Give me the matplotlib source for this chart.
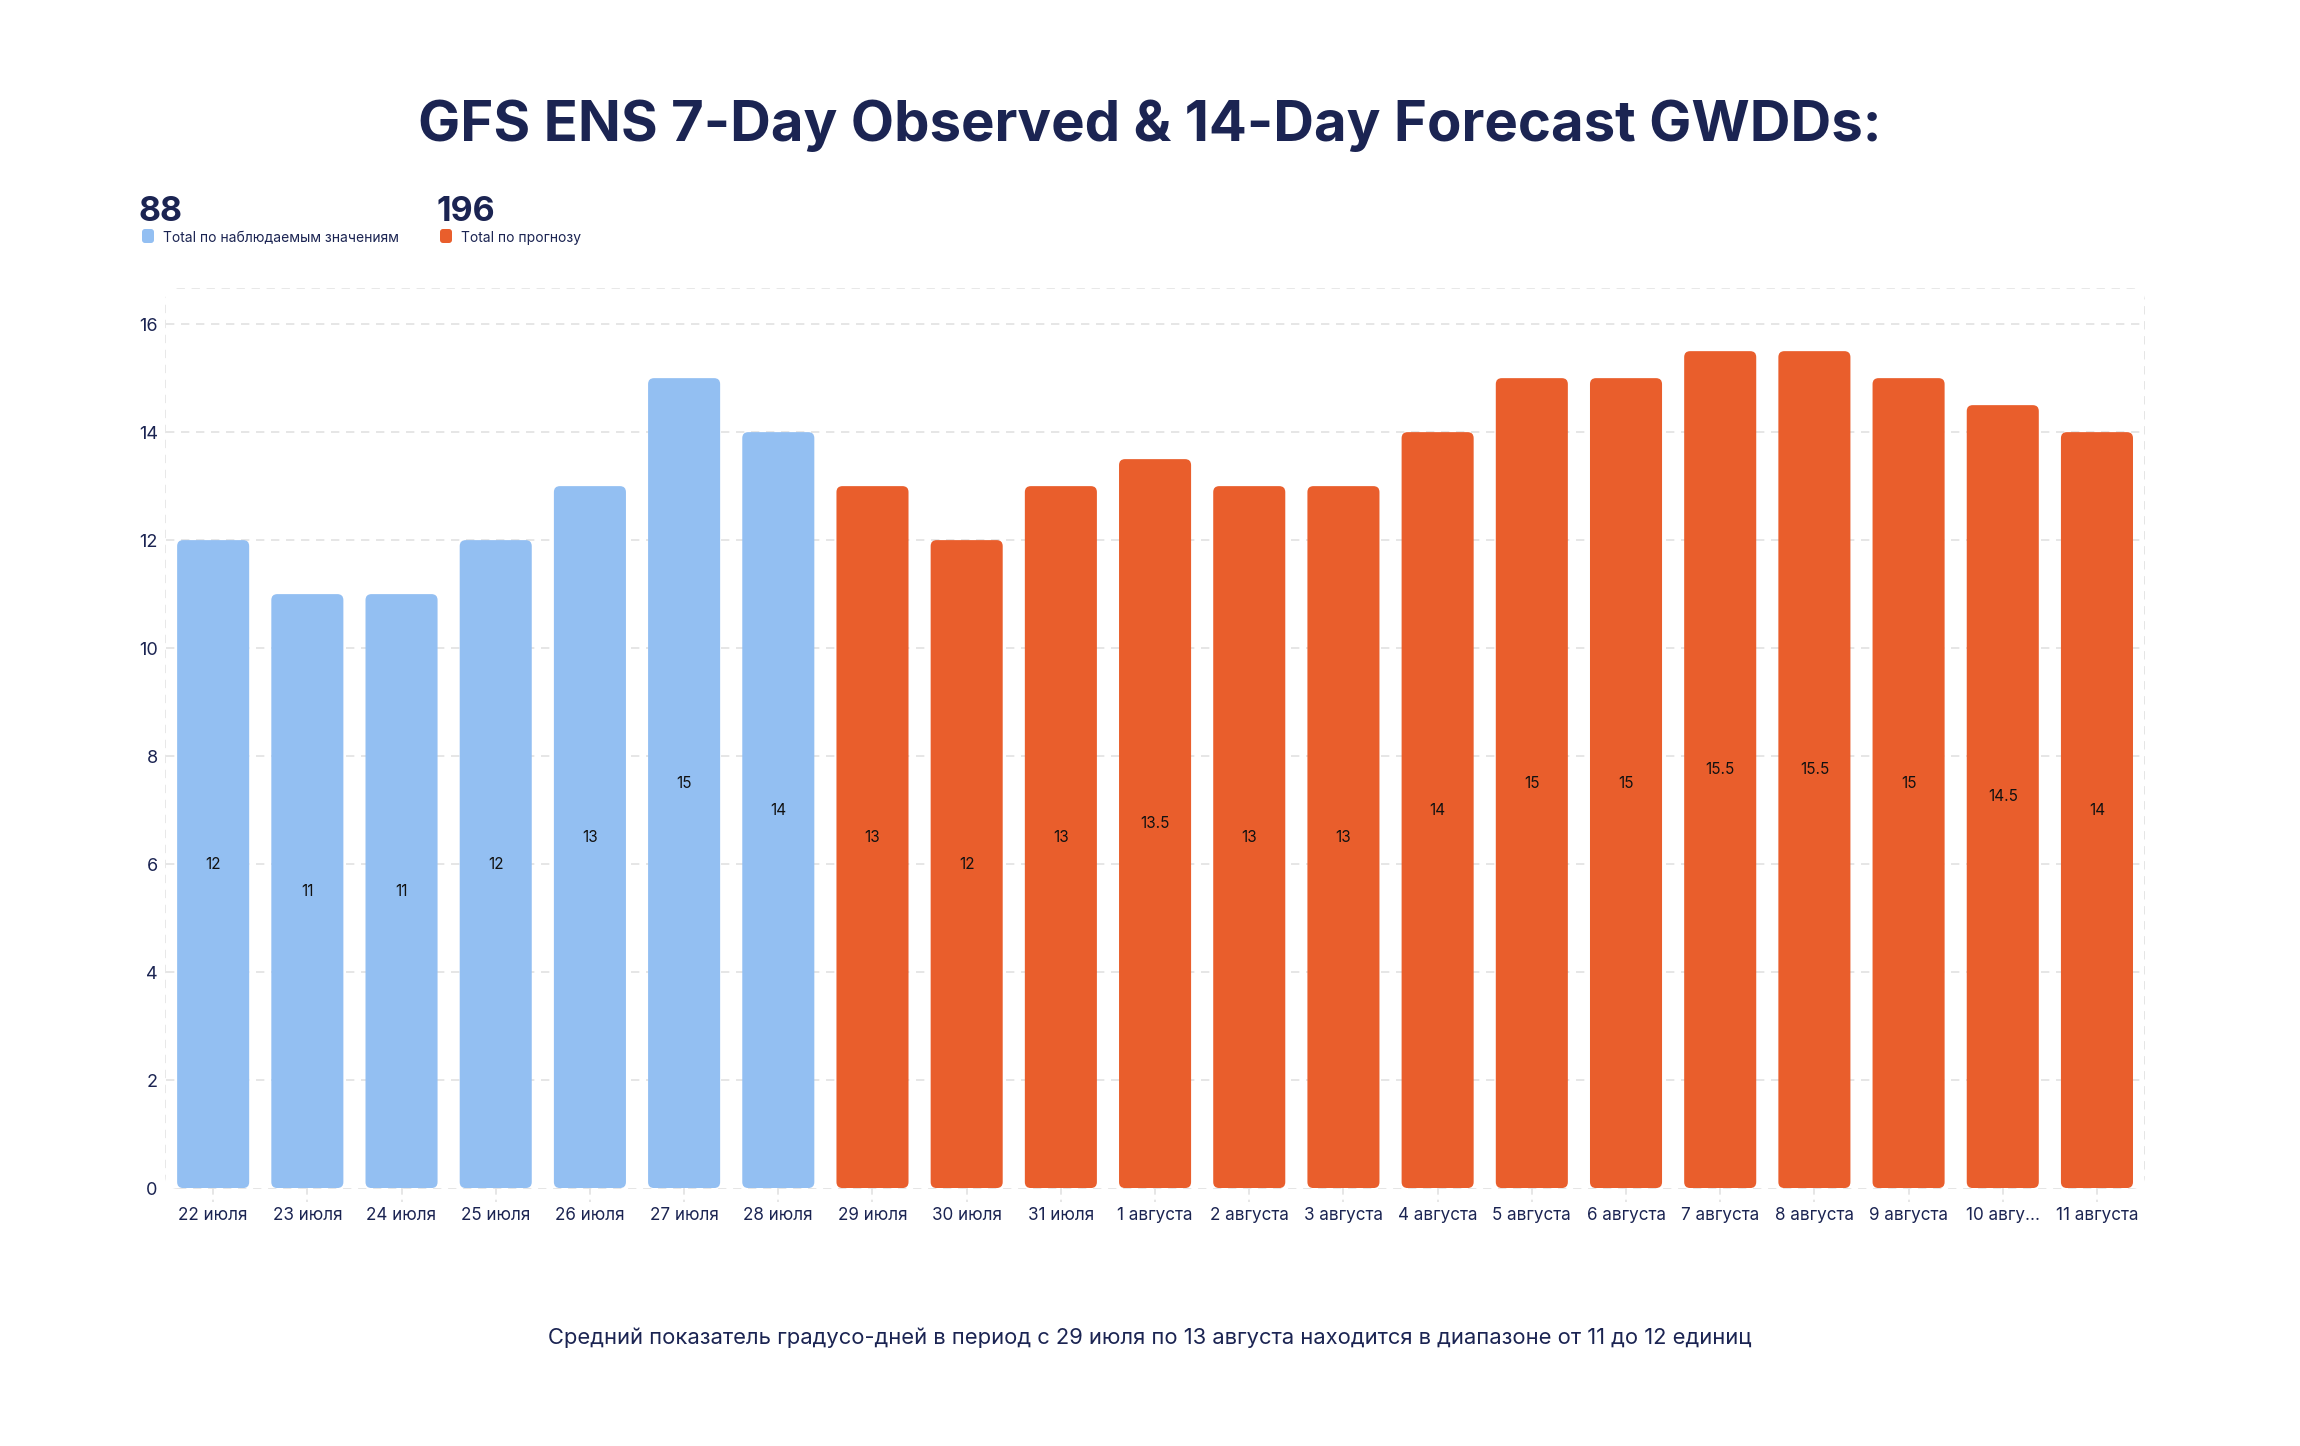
"""
GFS ENS observed vs forecast gas-weighted degree days, bar chart
"""

import matplotlib.pyplot as plt
from matplotlib.patches import FancyBboxPatch
from matplotlib.transforms import blended_transform_factory

plt.rcParams["font.family"] = ["Inter", "DejaVu Sans"]

dates = [
    "22 июля", "23 июля", "24 июля", "25 июля", "26 июля", "27 июля", "28 июля",
    "29 июля", "30 июля", "31 июля", "1 августа", "2 августа", "3 августа",
    "4 августа", "5 августа", "6 августа", "7 августа", "8 августа", "9 августа",
    "10 авгу...", "11 августа",
]
observed = [12, 11, 11, 12, 13, 15, 14]
forecast = [13, 12, 13, 13.5, 13, 13, 14, 15, 15, 15.5, 15.5, 15, 14.5, 14]
y_ticks = [0, 2, 4, 6, 8, 10, 12, 14, 16]

title = "GFS ENS 7-Day Observed & 14-Day Forecast GWDDs:"
footer = "Средний показатель градусо-дней в период с 29 июля по 13 августа находится в диапазоне от 11 до 12 единиц"
label_obs = "Total по наблюдаемым значениям"
label_fc = "Total по прогнозу"

NAVY = "#1b2452"
BLUE = "#93bff2"
ORANGE = "#e95e2c"
GRID = "#e2e2e2"

W, H = 2300, 1446
fig = plt.figure(figsize=(W / 100, H / 100), dpi=100)
ax = fig.add_axes([0.0722, 0.1784, 0.8600, 0.6217])

values = observed + forecast
colors = [BLUE] * len(observed) + [ORANGE] * len(forecast)
xs = list(range(len(values)))
width = 0.765

ax.set_xlim(-0.5, len(values) - 0.5)
ax.set_ylim(0, 16.65)

# rounded bars: compute aspect so corners look round in pixels
fig.canvas.draw()
bbox = ax.get_window_extent()
px_x = bbox.width / (ax.get_xlim()[1] - ax.get_xlim()[0])
px_y = bbox.height / (ax.get_ylim()[1] - ax.get_ylim()[0])
aspect = px_x / px_y
radius = 6 / px_x

bars = ax.bar(xs, values, width=width, color=colors)
for rect, c in zip(bars, colors):
    rect.set_visible(False)
    patch = FancyBboxPatch(
        (rect.get_x(), rect.get_y()), rect.get_width(), rect.get_height(),
        boxstyle=f"round,pad=0,rounding_size={radius}",
        mutation_aspect=aspect, facecolor=c, edgecolor="none", zorder=3,
    )
    ax.add_patch(patch)

for x, v in zip(xs, values):
    ax.text(x, v / 2, f"{v:g}", ha="center", va="center", fontsize=11,
            color="#111111", zorder=4)

# grid + frame
for s in ax.spines.values():
    s.set_visible(False)
ax.set_yticks(y_ticks)
ax.set_yticklabels([str(t) for t in y_ticks])
for t in y_ticks[1:]:
    ax.axhline(t, color=GRID, lw=1.2, ls=(0, (5, 4)), zorder=1)

frame = FancyBboxPatch(
    (bbox.x0 / fig.bbox.width, bbox.y0 / fig.bbox.height),
    bbox.width / fig.bbox.width, bbox.height / fig.bbox.height,
    boxstyle=f"round,pad=0,rounding_size={12 / fig.bbox.width}",
    mutation_aspect=fig.bbox.width / fig.bbox.height,
    transform=fig.transFigure, facecolor="none", edgecolor=GRID,
    lw=1.2, ls=(0, (5, 4)), zorder=0,
)
fig.add_artist(frame)

ax.set_xticks(xs)
ax.set_xticklabels(dates)
ax.tick_params(axis="x", length=0, pad=14, labelsize=12.3, labelcolor=NAVY)
ax.tick_params(axis="y", length=0, pad=6, labelsize=13, labelcolor=NAVY)

# little dashed ticks under the axis at each category
trans = blended_transform_factory(ax.transData, ax.transAxes)
for x in xs:
    ax.plot([x, x], [0, -0.016], transform=trans, color=GRID, lw=1.2,
            ls=(0, (4, 3)), clip_on=False)

# header
fig.text(0.5, 1 - 126 / H, title, ha="center", va="center", fontsize=40.5,
         fontweight="bold", color=NAVY)

fig.text(139 / W, 1 - 212 / H, f"{sum(observed):g}", ha="left", va="center",
         fontsize=24.5, fontweight="bold", color=NAVY)
fig.text(436 / W, 1 - 212 / H, f"{sum(forecast):g}", ha="left", va="center",
         fontsize=24.5, fontweight="bold", color=NAVY)

for x0, c, lab in [(142, BLUE, label_obs), (440, ORANGE, label_fc)]:
    marker = FancyBboxPatch(
        (x0 / W, 1 - 243 / H), 12 / W, 14 / H,
        boxstyle=f"round,pad=0,rounding_size={3 / W}",
        mutation_aspect=W / H, transform=fig.transFigure,
        facecolor=c, edgecolor="none",
    )
    fig.add_artist(marker)
    fig.text((x0 + 21) / W, 1 - 238 / H, lab, ha="left", va="center",
             fontsize=10, color=NAVY)

fig.text(0.5, 1 - 1338 / H, footer, ha="center", va="center",
         fontsize=15.8, color=NAVY)

fig.savefig("out.png", dpi=100, facecolor="white")
